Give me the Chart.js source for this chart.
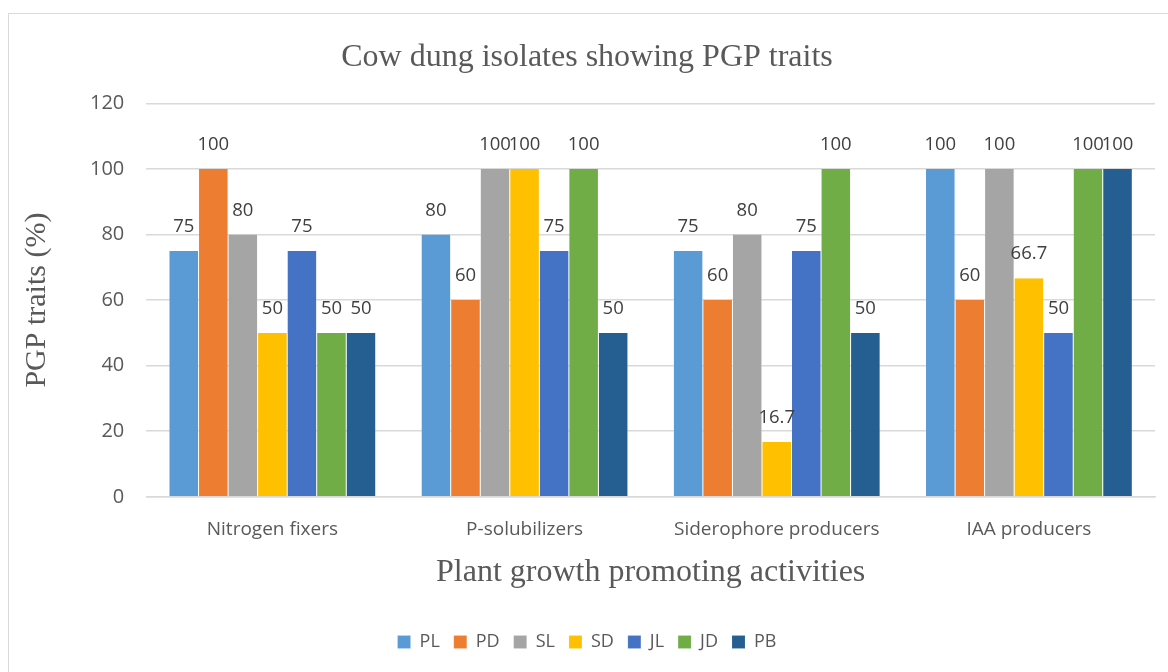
<!DOCTYPE html>
<html><head><meta charset="utf-8">
<script src="https://cdn.jsdelivr.net/npm/chart.js@4.4.1/dist/chart.umd.min.js"></script>
<style>
html,body{margin:0;padding:0;background:#fff;}
#wrap{position:absolute;left:0;top:0;width:1168px;height:672px;}
#frame{position:absolute;left:8px;top:13px;width:1170px;height:680px;border:1.5px solid #d9d9d9;box-sizing:border-box;}
</style></head>
<body>
<div id="frame"></div>
<div id="wrap"><canvas id="c" width="1168" height="672"></canvas></div>
<script>
const categories = ["Nitrogen fixers","P-solubilizers","Siderophore producers","IAA producers"];
const seriesNames = ["PL","PD","SL","SD","JL","JD","PB"];
const PL = [75,80,75,100];
const PD = [100,60,60,60];
const SL = [80,100,80,100];
const SD = [50,100,16.7,66.7];
const JL = [75,75,75,50];
const JD = [50,100,100,100];
const PB = [50,50,50,100];
const yTicks = [0,20,40,60,80,100,120];
const colors = ["#5B9BD5","#ED7D31","#A5A5A5","#FFC000","#4472C4","#70AD47","#255E91"];
const values = [PL,PD,SL,SD,JL,JD,PB];
const SANS = '"Open Sans", "Liberation Sans", sans-serif';
const SERIF = '"Liberation Serif", "Times New Roman", serif';

const labelPlugin = {
  id:'labels',
  afterDatasetsDraw(chart){
    const ctx = chart.ctx;
    ctx.save();
    ctx.font = '18.5px ' + SANS;
    ctx.fillStyle = '#404040';
    ctx.textAlign = 'center';
    ctx.textBaseline = 'middle';
    chart.data.datasets.forEach((ds,i)=>{
      const meta = chart.getDatasetMeta(i);
      meta.data.forEach((bar,j)=>{
        ctx.fillText(String(ds.data[j]), bar.x, bar.y - 24);
      });
    });
    ctx.restore();
  }
};

new Chart(document.getElementById('c'),{
  type:'bar',
  data:{
    labels:categories,
    datasets:seriesNames.map((n,i)=>({
      label:n, data:values[i], backgroundColor:colors[i],
      borderColor:'rgba(255,255,255,0.5)', borderWidth:{left:0.5,right:0.5,top:0,bottom:0},
      categoryPercentage:0.82, barPercentage:1.0
    }))
  },
  options:{
    responsive:false, animation:false,
    layout:{padding:{left:19,right:13,top:0,bottom:11}},
    plugins:{
      title:{display:true,text:'Cow dung isolates showing PGP traits',color:'#595959',
        font:{family:SERIF,size:32,weight:'normal'},padding:{top:38,bottom:27}},
      legend:{position:'bottom',labels:{color:'#595959',boxWidth:13,boxHeight:13,padding:14,
        font:{family:SANS,size:18}}},
      tooltip:{enabled:false}
    },
    scales:{
      x:{grid:{display:false,drawTicks:false},border:{color:'#d9d9d9',width:1.5},
        ticks:{color:'#595959',font:{family:SANS,size:19},padding:21},
        title:{display:true,text:'Plant growth promoting activities',color:'#595959',
          font:{family:SERIF,size:32},padding:{top:-8,bottom:27}}},
      y:{min:0,max:120,
        afterBuildTicks(s){s.ticks = yTicks.map(v=>({value:v}));},
        grid:{color:'#d9d9d9',lineWidth:1.5,drawTicks:false},border:{display:false},
        ticks:{color:'#595959',font:{family:SANS,size:20},padding:22},
        title:{display:true,text:'PGP traits (%)',color:'#595959',
          font:{family:SERIF,size:30},padding:{top:0,bottom:13}}}
    }
  },
  plugins:[labelPlugin]
});
</script>
</body></html>
